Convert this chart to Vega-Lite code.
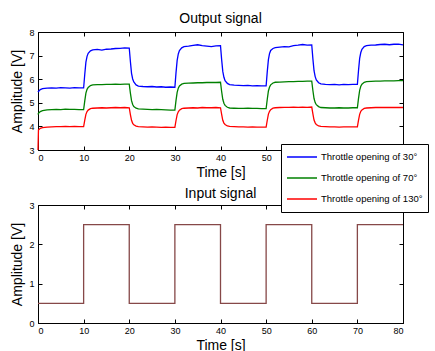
{
  "$schema": "https://vega.github.io/schema/vega-lite/v6.json",
  "padding": {"left": 10, "top": 11, "right": 0, "bottom": 0},
  "background": "white",
  "datasets": {
    "out": [
      {"t": 0, "a": 5.45, "b": 4.5, "c": 3.0},
      {"t": 0.1, "a": 5.48, "b": 4.55, "c": 3.85},
      {"t": 0.5, "a": 5.56, "b": 4.63, "c": 3.92},
      {"t": 1, "a": 5.6, "b": 4.67, "c": 3.95},
      {"t": 2, "a": 5.62, "b": 4.7, "c": 3.97},
      {"t": 3, "a": 5.63, "b": 4.71, "c": 3.98},
      {"t": 4, "a": 5.62, "b": 4.72, "c": 3.99},
      {"t": 5, "a": 5.64, "b": 4.71, "c": 3.99},
      {"t": 6, "a": 5.63, "b": 4.73, "c": 4.0},
      {"t": 7, "a": 5.62, "b": 4.72, "c": 3.99},
      {"t": 8, "a": 5.64, "b": 4.72, "c": 4.0},
      {"t": 9, "a": 5.63, "b": 4.71, "c": 3.99},
      {"t": 10, "a": 5.63, "b": 4.71, "c": 3.99},
      {"t": 10.25, "a": 6.21, "b": 5.08, "c": 4.27},
      {"t": 10.5, "a": 6.72, "b": 5.41, "c": 4.51},
      {"t": 10.75, "a": 6.97, "b": 5.57, "c": 4.63},
      {"t": 11, "a": 7.1, "b": 5.65, "c": 4.69},
      {"t": 11.5, "a": 7.2, "b": 5.73, "c": 4.75},
      {"t": 12, "a": 7.24, "b": 5.76, "c": 4.77},
      {"t": 13, "a": 7.26, "b": 5.77, "c": 4.78},
      {"t": 14, "a": 7.23, "b": 5.77, "c": 4.79},
      {"t": 15, "a": 7.27, "b": 5.78, "c": 4.78},
      {"t": 16, "a": 7.28, "b": 5.78, "c": 4.79},
      {"t": 17, "a": 7.3, "b": 5.79, "c": 4.8},
      {"t": 18, "a": 7.31, "b": 5.78, "c": 4.79},
      {"t": 19, "a": 7.33, "b": 5.79, "c": 4.8},
      {"t": 20, "a": 7.32, "b": 5.79, "c": 4.79},
      {"t": 20.25, "a": 6.75, "b": 5.41, "c": 4.5},
      {"t": 20.5, "a": 6.25, "b": 5.09, "c": 4.26},
      {"t": 20.75, "a": 6.01, "b": 4.93, "c": 4.13},
      {"t": 21, "a": 5.88, "b": 4.84, "c": 4.07},
      {"t": 21.5, "a": 5.76, "b": 4.77, "c": 4.01},
      {"t": 22, "a": 5.71, "b": 4.74, "c": 3.99},
      {"t": 23, "a": 5.69, "b": 4.73, "c": 3.98},
      {"t": 24, "a": 5.68, "b": 4.72, "c": 3.97},
      {"t": 25, "a": 5.69, "b": 4.71, "c": 3.98},
      {"t": 26, "a": 5.67, "b": 4.72, "c": 3.97},
      {"t": 27, "a": 5.68, "b": 4.71, "c": 3.96},
      {"t": 28, "a": 5.66, "b": 4.7, "c": 3.97},
      {"t": 29, "a": 5.67, "b": 4.69, "c": 3.96},
      {"t": 30, "a": 5.66, "b": 4.69, "c": 3.96},
      {"t": 30.25, "a": 6.28, "b": 5.1, "c": 4.25},
      {"t": 30.5, "a": 6.8, "b": 5.44, "c": 4.5},
      {"t": 30.75, "a": 7.07, "b": 5.62, "c": 4.62},
      {"t": 31, "a": 7.21, "b": 5.71, "c": 4.69},
      {"t": 31.5, "a": 7.33, "b": 5.79, "c": 4.75},
      {"t": 32, "a": 7.38, "b": 5.82, "c": 4.77},
      {"t": 33, "a": 7.4, "b": 5.83, "c": 4.78},
      {"t": 34, "a": 7.43, "b": 5.84, "c": 4.79},
      {"t": 35, "a": 7.46, "b": 5.85, "c": 4.78},
      {"t": 36, "a": 7.42, "b": 5.85, "c": 4.8},
      {"t": 37, "a": 7.4, "b": 5.86, "c": 4.79},
      {"t": 38, "a": 7.38, "b": 5.86, "c": 4.79},
      {"t": 39, "a": 7.41, "b": 5.86, "c": 4.8},
      {"t": 40, "a": 7.42, "b": 5.87, "c": 4.79},
      {"t": 40.25, "a": 6.83, "b": 5.48, "c": 4.51},
      {"t": 40.5, "a": 6.33, "b": 5.15, "c": 4.26},
      {"t": 40.75, "a": 6.08, "b": 4.98, "c": 4.14},
      {"t": 41, "a": 5.94, "b": 4.89, "c": 4.08},
      {"t": 41.5, "a": 5.82, "b": 4.81, "c": 4.02},
      {"t": 42, "a": 5.77, "b": 4.78, "c": 4.0},
      {"t": 43, "a": 5.75, "b": 4.77, "c": 3.99},
      {"t": 44, "a": 5.74, "b": 4.76, "c": 3.98},
      {"t": 45, "a": 5.73, "b": 4.76, "c": 3.98},
      {"t": 46, "a": 5.74, "b": 4.77, "c": 3.97},
      {"t": 47, "a": 5.72, "b": 4.76, "c": 3.98},
      {"t": 48, "a": 5.73, "b": 4.76, "c": 3.97},
      {"t": 49, "a": 5.72, "b": 4.75, "c": 3.97},
      {"t": 50, "a": 5.72, "b": 4.75, "c": 3.97},
      {"t": 50.25, "a": 6.32, "b": 5.15, "c": 4.26},
      {"t": 50.5, "a": 6.83, "b": 5.5, "c": 4.52},
      {"t": 50.75, "a": 7.09, "b": 5.67, "c": 4.64},
      {"t": 51, "a": 7.22, "b": 5.76, "c": 4.71},
      {"t": 51.5, "a": 7.3, "b": 5.84, "c": 4.77},
      {"t": 52, "a": 7.34, "b": 5.87, "c": 4.79},
      {"t": 53, "a": 7.36, "b": 5.88, "c": 4.8},
      {"t": 54, "a": 7.38, "b": 5.89, "c": 4.81},
      {"t": 55, "a": 7.37, "b": 5.9, "c": 4.81},
      {"t": 56, "a": 7.42, "b": 5.9, "c": 4.82},
      {"t": 57, "a": 7.44, "b": 5.91, "c": 4.81},
      {"t": 58, "a": 7.47, "b": 5.91, "c": 4.82},
      {"t": 59, "a": 7.44, "b": 5.92, "c": 4.81},
      {"t": 60, "a": 7.45, "b": 5.92, "c": 4.82},
      {"t": 60.25, "a": 6.86, "b": 5.52, "c": 4.53},
      {"t": 60.5, "a": 6.36, "b": 5.18, "c": 4.27},
      {"t": 60.75, "a": 6.11, "b": 5.01, "c": 4.15},
      {"t": 61, "a": 5.97, "b": 4.92, "c": 4.08},
      {"t": 61.5, "a": 5.85, "b": 4.84, "c": 4.02},
      {"t": 62, "a": 5.8, "b": 4.8, "c": 4.0},
      {"t": 63, "a": 5.78, "b": 4.79, "c": 3.99},
      {"t": 64, "a": 5.77, "b": 4.78, "c": 3.98},
      {"t": 65, "a": 5.78, "b": 4.78, "c": 3.98},
      {"t": 66, "a": 5.76, "b": 4.79, "c": 3.97},
      {"t": 67, "a": 5.78, "b": 4.78, "c": 3.98},
      {"t": 68, "a": 5.77, "b": 4.78, "c": 3.98},
      {"t": 69, "a": 5.78, "b": 4.79, "c": 3.98},
      {"t": 70, "a": 5.78, "b": 4.79, "c": 3.98},
      {"t": 70.25, "a": 6.37, "b": 5.19, "c": 4.27},
      {"t": 70.5, "a": 6.88, "b": 5.53, "c": 4.51},
      {"t": 70.75, "a": 7.13, "b": 5.7, "c": 4.64},
      {"t": 71, "a": 7.27, "b": 5.79, "c": 4.7},
      {"t": 71.5, "a": 7.38, "b": 5.87, "c": 4.76},
      {"t": 72, "a": 7.42, "b": 5.9, "c": 4.78},
      {"t": 73, "a": 7.44, "b": 5.91, "c": 4.79},
      {"t": 74, "a": 7.45, "b": 5.92, "c": 4.8},
      {"t": 75, "a": 7.47, "b": 5.92, "c": 4.8},
      {"t": 76, "a": 7.48, "b": 5.93, "c": 4.81},
      {"t": 77, "a": 7.46, "b": 5.93, "c": 4.8},
      {"t": 78, "a": 7.48, "b": 5.93, "c": 4.8},
      {"t": 79, "a": 7.49, "b": 5.94, "c": 4.81},
      {"t": 80, "a": 7.45, "b": 5.94, "c": 4.8}
    ],
    "names": [
      {"key": "a", "name": "Throttle opening of 30°"},
      {"key": "b", "name": "Throttle opening of 70°"},
      {"key": "c", "name": "Throttle opening of 130°"}
    ],
    "inp": [
      {"t": 0, "u": 0.5},
      {"t": 10, "u": 2.5},
      {"t": 20, "u": 0.5},
      {"t": 30, "u": 2.5},
      {"t": 40, "u": 0.5},
      {"t": 50, "u": 2.5},
      {"t": 60, "u": 0.5},
      {"t": 70, "u": 2.5},
      {"t": 80, "u": 2.5}
    ]
  },
  "spacing": 6,
  "vconcat": [
    {
      "width": 365,
      "height": 118,
      "title": {"text": "Output signal", "offset": 2},
      "data": {"name": "out"},
      "transform": [
        {"fold": ["a", "b", "c"], "as": ["key", "v"]},
        {"lookup": "key", "from": {"data": {"name": "names"}, "key": "key", "fields": ["name"]}}
      ],
      "layer": [
        {
          "mark": {"type": "line", "strokeWidth": 1.3},
          "encoding": {
            "x": {"field": "t", "type": "quantitative", "scale": {"domain": [0, 80], "nice": false},
                  "axis": {"title": "Time [s]", "values": [0, 10, 20, 30, 40, 50, 60, 70, 80]}},
            "y": {"field": "v", "type": "quantitative", "scale": {"domain": [3, 8], "nice": false, "zero": false},
                  "axis": {"title": "Amplitude [V]", "values": [3, 4, 5, 6, 7, 8]}},
            "color": {"field": "name", "type": "nominal",
                      "scale": {"domain": ["Throttle opening of 30°", "Throttle opening of 70°", "Throttle opening of 130°"],
                                "range": ["#0000ff", "#008000", "#ff0000"]},
                      "legend": {"title": null, "orient": "none", "legendX": 243, "legendY": 112, "labelExpr": "datum.label + '    '"}}
          }
        },
        {
          "mark": {"type": "line", "opacity": 0},
          "encoding": {
            "x": {"field": "t", "type": "quantitative", "axis": {"orient": "top", "labels": false, "title": null, "domain": false, "minExtent": 0, "values": [0, 10, 20, 30, 40, 50, 60, 70, 80]}},
            "y": {"field": "v", "type": "quantitative", "axis": {"orient": "right", "labels": false, "title": null, "domain": false, "minExtent": 0, "values": [3, 4, 5, 6, 7, 8]}},
            "detail": {"field": "key"}
          }
        }
      ],
      "resolve": {"axis": {"x": "independent", "y": "independent"}}
    },
    {
      "width": 365,
      "height": 118,
      "title": {"text": "Input signal", "offset": 0},
      "data": {"name": "inp"},
      "layer": [
        {
          "mark": {"type": "line", "interpolate": "step-after", "color": "#864848", "strokeWidth": 1.3},
          "encoding": {
            "x": {"field": "t", "type": "quantitative", "scale": {"domain": [0, 80], "nice": false},
                  "axis": {"title": "Time [s]", "values": [0, 10, 20, 30, 40, 50, 60, 70, 80]}},
            "y": {"field": "u", "type": "quantitative", "scale": {"domain": [0, 3], "nice": false},
                  "axis": {"title": "Amplitude [V]", "values": [0, 1, 2, 3]}}
          }
        },
        {
          "mark": {"type": "line", "opacity": 0},
          "encoding": {
            "x": {"field": "t", "type": "quantitative", "axis": {"orient": "top", "labels": false, "title": null, "domain": false, "minExtent": 0, "values": [0, 10, 20, 30, 40, 50, 60, 70, 80]}},
            "y": {"field": "u", "type": "quantitative", "axis": {"orient": "right", "labels": false, "title": null, "domain": false, "minExtent": 0, "values": [0, 1, 2, 3]}}
          }
        }
      ],
      "resolve": {"axis": {"x": "independent", "y": "independent"}}
    }
  ],
  "config": {
    "font": "Liberation Sans",
    "view": {"stroke": "black", "strokeWidth": 1},
    "axis": {
      "grid": false, "domainColor": "black", "tickColor": "black", "labelColor": "black", "titleColor": "black",
      "labelFontSize": 9, "titleFontSize": 14, "titleFontWeight": "normal", "tickSize": -4,
      "domainWidth": 1, "tickWidth": 1
    },
    "axisX": {"labelPadding": 7, "titlePadding": 3},
    "axisY": {"labelPadding": 8, "titlePadding": 4},
    "title": {"fontSize": 14, "fontWeight": "normal", "color": "black", "font": "Liberation Sans"},
    "legend": {
      "fillColor": "white", "strokeColor": "black", "padding": 5, "symbolType": "stroke",
      "symbolStrokeWidth": 1.5, "symbolSize": 900, "labelFontSize": 9.5, "labelOffset": 3, "rowPadding": 5,
      "clipHeight": 16,
      "labelColor": "black", "labelFont": "Liberation Sans"
    }
  }
}
